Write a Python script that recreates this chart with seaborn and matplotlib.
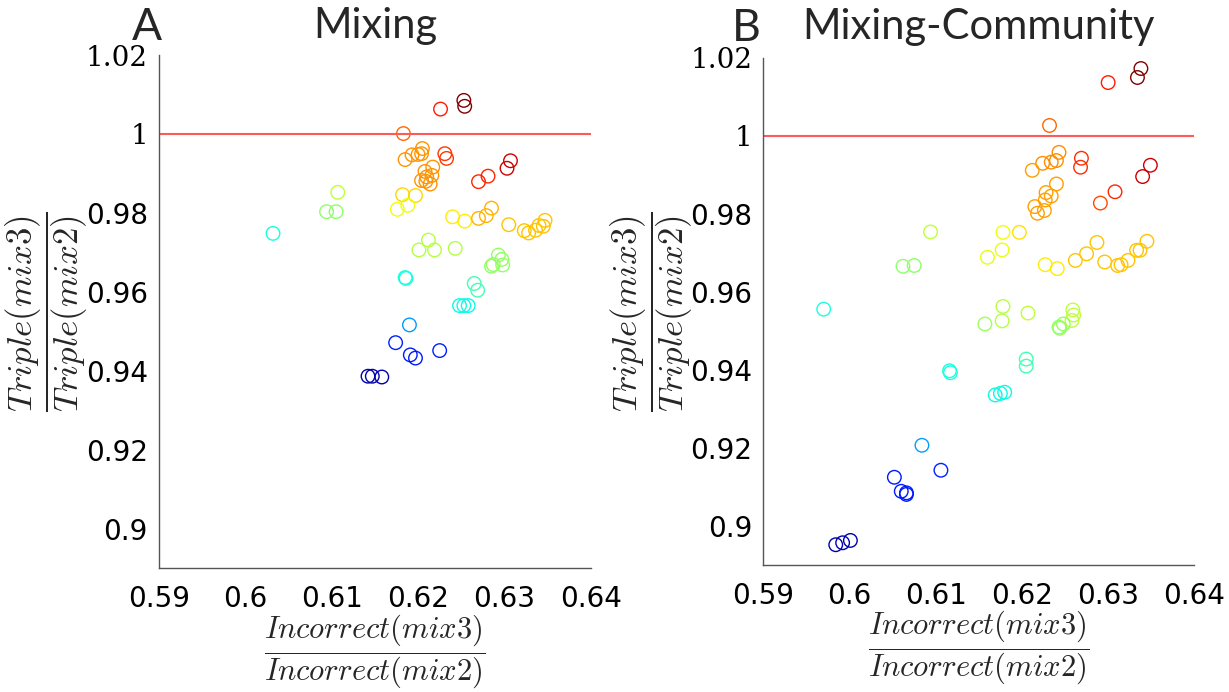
import matplotlib
matplotlib.use("Agg")
import matplotlib.pyplot as plt
import seaborn as sns
import pandas as pd

# Panel A: Mixing
mix_x = [0.6253, 0.6254, 0.6226, 0.6183, 0.6205, 0.6204, 0.6193, 0.6200, 0.6185, 0.6231,
         0.6233, 0.6307, 0.6303, 0.6281, 0.6270, 0.6217, 0.6208, 0.6216, 0.6210, 0.6204,
         0.6214, 0.6209, 0.6182, 0.6197, 0.6188, 0.6176, 0.6107, 0.6094, 0.6105, 0.6032,
         0.6240, 0.6254, 0.6270, 0.6279, 0.6285, 0.6305, 0.6323, 0.6328, 0.6336, 0.6340,
         0.6345, 0.6347, 0.6212, 0.6201, 0.6219, 0.6243, 0.6293, 0.6297, 0.6298, 0.6285,
         0.6287, 0.6185, 0.6186, 0.6265, 0.6269, 0.6248, 0.6253, 0.6258, 0.6190, 0.6174,
         0.6191, 0.6197, 0.6225, 0.6142, 0.6147, 0.6158]
mix_y = [1.0085, 1.0070, 1.0063, 1.0001, 0.9963, 0.9950, 0.9947, 0.9948, 0.9935, 0.9950,
         0.9938, 0.9932, 0.9913, 0.9893, 0.9879, 0.9916, 0.9905, 0.9895, 0.9891, 0.9882,
         0.9873, 0.9880, 0.9846, 0.9844, 0.9819, 0.9809, 0.9852, 0.9803, 0.9803, 0.9748,
         0.9790, 0.9779, 0.9786, 0.9793, 0.9812, 0.9770, 0.9755, 0.9749, 0.9756, 0.9768,
         0.9766, 0.9781, 0.9731, 0.9706, 0.9706, 0.9710, 0.9693, 0.9682, 0.9668, 0.9665,
         0.9669, 0.9636, 0.9634, 0.9621, 0.9604, 0.9565, 0.9565, 0.9565, 0.9516, 0.9471,
         0.9440, 0.9432, 0.9451, 0.9386, 0.9386, 0.9384]
mix_c = [1.00, 1.00, 0.88, 0.80, 0.75, 0.75, 0.75, 0.75, 0.75, 0.85,
         0.85, 0.93, 0.93, 0.87, 0.87, 0.75, 0.75, 0.75, 0.75, 0.75,
         0.75, 0.75, 0.68, 0.68, 0.64, 0.64, 0.58, 0.52, 0.52, 0.38,
         0.66, 0.66, 0.72, 0.72, 0.72, 0.70, 0.70, 0.70, 0.70, 0.70,
         0.70, 0.70, 0.57, 0.57, 0.57, 0.57, 0.53, 0.53, 0.53, 0.53,
         0.53, 0.38, 0.38, 0.43, 0.43, 0.37, 0.37, 0.37, 0.28, 0.16,
         0.15, 0.15, 0.16, 0.04, 0.04, 0.04]

# Panel B: Mixing-Community
comm_x = [0.6338, 0.6334, 0.6300, 0.6232, 0.6243, 0.6269, 0.6268, 0.6224, 0.6234, 0.6240,
          0.6212, 0.6349, 0.6340, 0.6308, 0.6291, 0.6240, 0.6228, 0.6234, 0.6227, 0.6215,
          0.6226, 0.6218, 0.6094, 0.6062, 0.6075, 0.5970, 0.6178, 0.6197, 0.6177, 0.6160,
          0.6227, 0.6241, 0.6262, 0.6275, 0.6287, 0.6296, 0.6311, 0.6315, 0.6323, 0.6333,
          0.6337, 0.6345, 0.6178, 0.6177, 0.6157, 0.6207, 0.6259, 0.6260, 0.6258, 0.6248,
          0.6243, 0.6244, 0.6205, 0.6205, 0.6116, 0.6117, 0.6169, 0.6175, 0.6180, 0.6084,
          0.6106, 0.6052, 0.6060, 0.6066, 0.6066, 0.5984, 0.5992, 0.6001]
comm_y = [1.0173, 1.0150, 1.0137, 1.0027, 0.9958, 0.9943, 0.9920, 0.9930, 0.9933, 0.9937,
          0.9912, 0.9925, 0.9896, 0.9857, 0.9828, 0.9877, 0.9855, 0.9846, 0.9836, 0.9819,
          0.9809, 0.9802, 0.9754, 0.9666, 0.9668, 0.9556, 0.9753, 0.9753, 0.9708, 0.9689,
          0.9670, 0.9660, 0.9681, 0.9698, 0.9727, 0.9677, 0.9668, 0.9670, 0.9681, 0.9707,
          0.9707, 0.9730, 0.9563, 0.9526, 0.9518, 0.9546, 0.9554, 0.9541, 0.9527, 0.9518,
          0.9510, 0.9507, 0.9428, 0.9410, 0.9398, 0.9393, 0.9336, 0.9340, 0.9343, 0.9207,
          0.9143, 0.9125, 0.9089, 0.9085, 0.9081, 0.8952, 0.8957, 0.8963]
comm_c = [1.00, 1.00, 0.88, 0.80, 0.76, 0.86, 0.86, 0.76, 0.76, 0.76,
          0.74, 0.93, 0.93, 0.87, 0.83, 0.74, 0.74, 0.74, 0.74, 0.74,
          0.74, 0.74, 0.58, 0.52, 0.52, 0.38, 0.64, 0.67, 0.63, 0.63,
          0.66, 0.66, 0.70, 0.70, 0.70, 0.70, 0.70, 0.70, 0.70, 0.70,
          0.70, 0.70, 0.57, 0.57, 0.54, 0.58, 0.58, 0.58, 0.58, 0.53,
          0.53, 0.53, 0.43, 0.43, 0.38, 0.38, 0.37, 0.37, 0.37, 0.28,
          0.16, 0.15, 0.15, 0.15, 0.15, 0.04, 0.04, 0.04]

x_ticks = [0.59, 0.60, 0.61, 0.62, 0.63, 0.64]
x_tick_labels = ['0.59', '0.6', '0.61', '0.62', '0.63', '0.64']
y_ticks = [0.90, 0.92, 0.94, 0.96, 0.98, 1.00, 1.02]
y_tick_labels = ['0.9', '0.92', '0.94', '0.96', '0.98', '1', '1.02']

JET = matplotlib.colormaps['jet']

sns.set_style("white")
plt.rcParams['font.family'] = ['DejaVu Sans']
plt.rcParams['mathtext.fontset'] = 'cm'

fig = plt.figure(figsize=(12.29, 6.92), dpi=100)
ax_a = fig.add_axes([0.1294, 0.1792, 0.3513, 0.7413])
ax_b = fig.add_axes([0.6211, 0.1835, 0.3507, 0.7327])


def draw_panel(ax, xs, ys, cs, letter, title, letter_x, letter_y, title_pad):
    df = pd.DataFrame({'x': xs, 'y': ys, 'c': cs})
    sns.scatterplot(data=df, x='x', y='y', hue='c', palette=JET, hue_norm=(0, 1),
                    s=95, marker='o', linewidth=1.0, legend=False, ax=ax)
    pc = ax.collections[0]
    pc.set_edgecolors(pc.get_facecolors())
    pc.set_facecolors('none')

    ax.plot([0.59, 0.64], [1.0, 1.0], color='#ff5a5a', linewidth=1.5, zorder=1)

    ax.set_xlim(0.59, 0.64)
    ax.set_ylim(0.89, 1.02)
    ax.set_xticks(x_ticks, x_tick_labels)
    ax.set_yticks(y_ticks, y_tick_labels)
    for lbl in ax.get_yticklabels():
        if lbl.get_text() in ('1', '1.02'):
            lbl.set_family('DejaVu Serif')
    ax.tick_params(axis='both', direction='in', length=5, width=1, color='#555555',
                   labelsize=20, labelcolor='black')
    ax.tick_params(axis='x', pad=12)
    ax.tick_params(axis='y', pad=8)

    for side in ['top', 'right']:
        ax.spines[side].set_visible(False)
    for side in ['left', 'bottom']:
        ax.spines[side].set_color('#555555')
        ax.spines[side].set_linewidth(1.0)

    ax.set_xlabel(r'$\dfrac{Incorrect(mix3)}{Incorrect(mix2)}$', fontsize=22, va='center')
    ax.xaxis.set_label_coords(0.5, -0.164)
    ax.set_ylabel(r'$\dfrac{Triple(mix3)}{Triple(mix2)}$', fontsize=25, va='center')
    ax.yaxis.set_label_coords(-0.26, 0.5)

    ax.set_title(title, fontsize=30, family='Lato', pad=title_pad)
    ax.text(letter_x, letter_y, letter, transform=ax.transAxes, fontsize=32,
            family='Lato', ha='center', va='baseline')


draw_panel(ax_a, mix_x, mix_y, mix_c, 'A', 'Mixing', -0.027, 1.03, 12)
draw_panel(ax_b, comm_x, comm_y, comm_c, 'B', 'Mixing-Community', -0.039, 1.033, 14)

fig.savefig('out.png', dpi=100)
